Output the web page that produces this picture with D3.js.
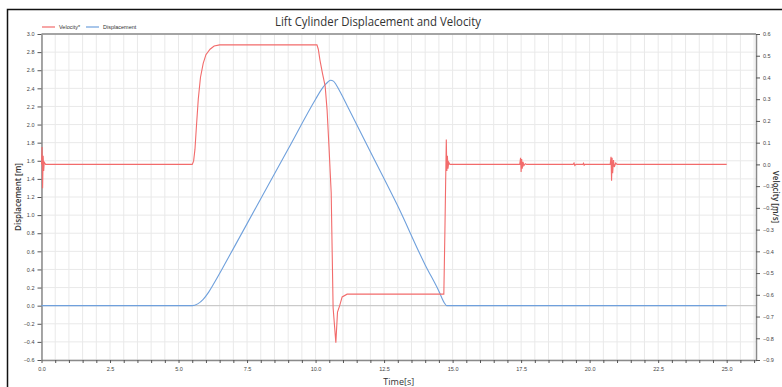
<!DOCTYPE html>
<html>
<head>
<meta charset="utf-8">
<script src="https://cdn.jsdelivr.net/npm/d3@7"></script>
<style>
  body { margin: 0; background: #fff; overflow: hidden; }
  svg { display: block; }
</style>
</head>
<body>
<div id="chart"></div>
<script>
// ---------------------------------------------------------------------------
// Data
// ---------------------------------------------------------------------------
const velTime = [0, 0.02, 0.04, 0.06, 0.08, 0.10, 0.15, 5.5, 5.55, 5.6, 5.65, 5.72, 5.8, 5.9, 6.0, 6.15, 6.3, 6.5,
  10.05, 10.1, 10.16, 10.25, 10.35, 10.42, 10.49, 10.57, 10.64, 10.74, 10.8, 10.88, 10.97, 11.15,
  14.68, 14.72, 14.75, 14.77, 14.79, 14.81, 14.83, 14.86, 14.9,
  17.45, 17.48, 17.5, 17.52, 17.54, 17.57, 17.6, 17.65, 17.7,
  19.4, 19.43, 19.46, 19.5, 19.75, 19.78, 19.8, 19.83,
  20.75, 20.78, 20.8, 20.82, 20.84, 20.87, 20.9, 20.95, 21.0, 25.0];
const velValues = [0, 0.08, -0.11, 0.04, -0.03, 0.01, 0, 0, 0.015, 0.07, 0.17, 0.3, 0.4, 0.465, 0.505, 0.53, 0.545, 0.55,
  0.55, 0.53, 0.48, 0.42, 0.36, 0.25, 0.08, -0.13, -0.66, -0.82, -0.68, -0.65, -0.61, -0.597,
  -0.597, -0.3, -0.05, 0.115, -0.03, 0.04, -0.02, 0.01, 0,
  0, 0.03, -0.035, 0.025, -0.02, 0.012, -0.006, 0.003, 0,
  0, 0.006, -0.005, 0, 0, 0.005, -0.004, 0,
  0, 0.035, -0.075, 0.03, -0.04, 0.02, -0.012, 0.006, 0, 0];

const dispTime = [0, 5.5, 5.7, 5.9, 6.1, 6.3, 6.6, 7.0, 8.0, 9.0, 10.0, 10.2, 10.35, 10.45, 10.55, 10.65,
  10.75, 10.9, 11.2, 12.0, 13.0, 14.0, 14.5, 14.7, 14.78, 25.0];
const dispValues = [0, 0, 0.02, 0.07, 0.15, 0.25, 0.41, 0.63, 1.18, 1.73, 2.28, 2.38, 2.44, 2.47, 2.49, 2.48,
  2.44, 2.36, 2.18, 1.70, 1.10, 0.45, 0.16, 0.03, 0, 0];

const xTicks = [0, 2.5, 5, 7.5, 10, 12.5, 15, 17.5, 20, 22.5, 25];
const leftTicks = [-0.6, -0.4, -0.2, 0, 0.2, 0.4, 0.6, 0.8, 1.0, 1.2, 1.4, 1.6, 1.8, 2.0, 2.2, 2.4, 2.6, 2.8, 3.0];
const rightTicks = [-0.9, -0.8, -0.7, -0.6, -0.5, -0.4, -0.3, -0.2, -0.1, 0, 0.1, 0.2, 0.3, 0.4, 0.5, 0.6];

const seriesNames = ["Velocity*", "Displacement"];
const seriesColors = ["#f26b6b", "#6fa0dc"];

// ---------------------------------------------------------------------------
// Dimensions
// ---------------------------------------------------------------------------
const width = 782, height = 387;
const margin = { top: 34, right: 26, bottom: 27, left: 41.5 };
const iwidth = width - margin.left - margin.right,
      iheight = height - margin.top - margin.bottom;

const svg = d3.select("#chart").append("svg")
  .attr("width", width)
  .attr("height", height);

// outer frame (only top/left edges visible)
svg.append("path")
  .attr("d", `M7.5,${height}V9.5H${width}`)
  .attr("fill", "none")
  .attr("stroke", "#111")
  .attr("stroke-width", 1.5);

const g = svg.append("g").attr("transform", `translate(${margin.left},${margin.top})`);

// ---------------------------------------------------------------------------
// Scales
// ---------------------------------------------------------------------------
const x = d3.scaleLinear().domain([0, 26.07]).range([0, iwidth]);
const yL = d3.scaleLinear().domain([-0.6, 3.0]).range([iheight, 0]);
const yR = d3.scaleLinear().domain([-0.9, 0.6]).range([iheight, 0]);

// ---------------------------------------------------------------------------
// Grid
// ---------------------------------------------------------------------------
const gridX = d3.range(0, 26.01, 0.5);
g.append("g").selectAll("line").data(gridX).join("line")
  .attr("x1", d => x(d)).attr("x2", d => x(d))
  .attr("y1", 0).attr("y2", iheight)
  .attr("stroke", "#e9e9e9").attr("stroke-width", 1);

g.append("g").selectAll("line").data(leftTicks).join("line")
  .attr("x1", 0).attr("x2", iwidth)
  .attr("y1", d => yL(d)).attr("y2", d => yL(d))
  .attr("stroke", "#e9e9e9").attr("stroke-width", 1);

// zero line of displacement
g.append("line")
  .attr("x1", 0).attr("x2", iwidth)
  .attr("y1", yL(0)).attr("y2", yL(0))
  .attr("stroke", "#c4c4c4").attr("stroke-width", 1);

// ---------------------------------------------------------------------------
// Axes
// ---------------------------------------------------------------------------
function styleAxis(sel) {
  sel.select(".domain").attr("stroke", "#8a8a8a").attr("stroke-width", 1.5);
  sel.selectAll(".tick line").attr("stroke", "#555");
  sel.selectAll(".tick text")
    .attr("fill", "#444")
    .style("font-family", "'Liberation Sans', Arial, sans-serif")
    .style("font-size", "5.5px");
}

g.append("g")
  .attr("transform", `translate(0,${iheight})`)
  .call(d3.axisBottom(x).tickValues(gridX).tickSize(3).tickSizeOuter(0)
    .tickFormat(d => xTicks.includes(d) ? d3.format(".1f")(d) : ""))
  .call(styleAxis)
  .call(a => a.selectAll(".tick text").attr("dy", "0.9em"));

g.append("g")
  .call(d3.axisLeft(yL).tickValues(leftTicks).tickSize(4).tickSizeOuter(0).tickFormat(d3.format(".1f")))
  .call(styleAxis);

g.append("g")
  .attr("transform", `translate(${iwidth},0)`)
  .call(d3.axisRight(yR).tickValues(rightTicks).tickSize(4).tickSizeOuter(0).tickFormat(d3.format(".1f")))
  .call(styleAxis);

// top border of plot
g.append("line")
  .attr("x1", 0).attr("x2", iwidth).attr("y1", 0).attr("y2", 0)
  .attr("stroke", "#8a8a8a").attr("stroke-width", 1.5);

// ---------------------------------------------------------------------------
// Lines
// ---------------------------------------------------------------------------
const dispData = dispTime.map((t, i) => ({ t: t, v: dispValues[i] }));
const velData = velTime.map((t, i) => ({ t: t, v: velValues[i] }));

g.append("path")
  .datum(dispData)
  .attr("fill", "none")
  .attr("stroke", seriesColors[1])
  .attr("stroke-width", 1.1)
  .attr("d", d3.line().x(d => x(d.t)).y(d => yL(d.v)).curve(d3.curveMonotoneX));

g.append("path")
  .datum(velData)
  .attr("fill", "none")
  .attr("stroke", seriesColors[0])
  .attr("stroke-width", 1.1)
  .attr("d", d3.line().x(d => x(d.t)).y(d => yR(d.v)));

// ---------------------------------------------------------------------------
// Titles
// ---------------------------------------------------------------------------
svg.append("text")
  .attr("x", 378).attr("y", 26)
  .attr("text-anchor", "middle")
  .attr("textLength", 206).attr("lengthAdjust", "spacingAndGlyphs")
  .attr("fill", "#333")
  .style("font-family", "'Open Sans', sans-serif")
  .style("font-size", "12.5px")
  .text("Lift Cylinder Displacement and Velocity");

svg.append("text")
  .attr("x", margin.left + iwidth / 2).attr("y", 385)
  .attr("text-anchor", "middle")
  .attr("fill", "#333")
  .style("font-family", "'Open Sans', sans-serif")
  .style("font-size", "9px")
  .text("Time[s]");

svg.append("text")
  .attr("transform", `translate(21,${margin.top + iheight / 2})rotate(-90)`)
  .attr("text-anchor", "middle")
  .attr("fill", "#333")
  .style("font-family", "'Open Sans', sans-serif")
  .style("font-size", "8px")
  .style("font-weight", "600")
  .text("Displacement [m]");

svg.append("text")
  .attr("transform", `translate(773,${margin.top + iheight / 2})rotate(90)`)
  .attr("text-anchor", "middle")
  .attr("fill", "#333")
  .style("font-family", "'Open Sans', sans-serif")
  .style("font-size", "8px")
  .style("font-weight", "600")
  .text("Velocity [m/s]");

// ---------------------------------------------------------------------------
// Legend
// ---------------------------------------------------------------------------
const legendX = [42, 86];
const legend = svg.append("g").selectAll("g").data(seriesNames).join("g")
  .attr("transform", (d, i) => `translate(${legendX[i]},27)`);

legend.append("line")
  .attr("x1", 0).attr("x2", 13).attr("y1", 0).attr("y2", 0)
  .attr("stroke", (d, i) => seriesColors[i]).attr("stroke-width", 1.2);

legend.append("text")
  .attr("x", 17).attr("y", 2)
  .attr("fill", "#333")
  .style("font-family", "'Liberation Sans', Arial, sans-serif")
  .style("font-size", "5.5px")
  .text(d => d);
</script>
</body>
</html>
